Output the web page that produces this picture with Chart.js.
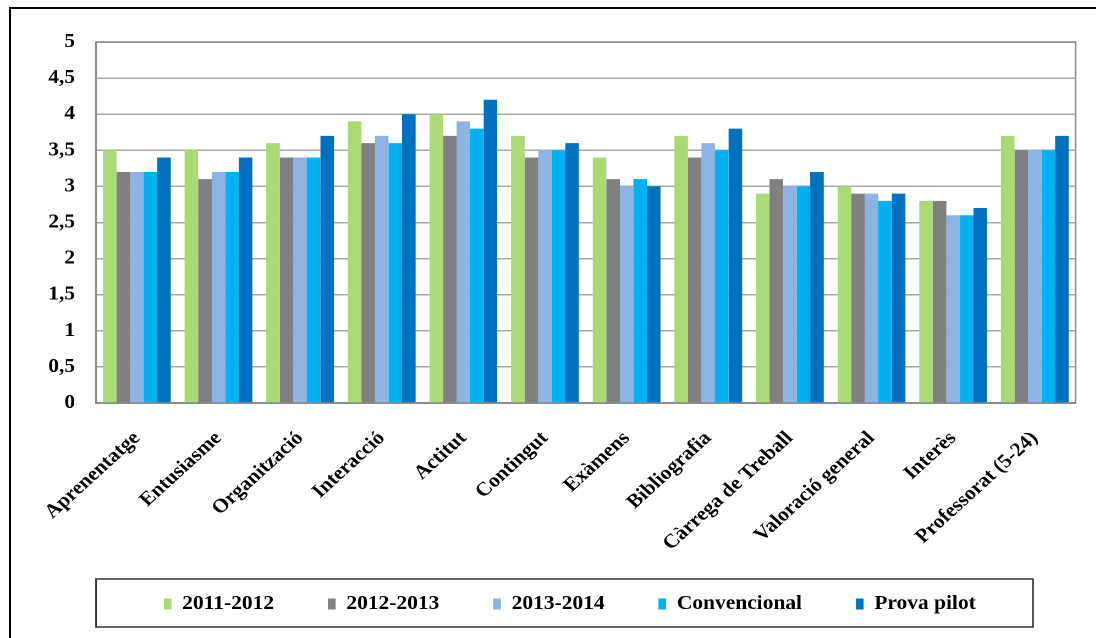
<!DOCTYPE html>
<html>
<head>
<meta charset="utf-8">
<script src="https://cdn.jsdelivr.net/npm/chart.js@4/dist/chart.umd.min.js"></script>
<style>
  html, body { margin: 0; padding: 0; background: #fff; overflow: hidden; }
  #frame { position: absolute; left: 9px; top: 7px; width: 1200px; height: 700px;
           border-left: 2px solid #000; border-top: 2px solid #000; }
  /* the original picture is stretched sideways, so the chart is too */
  #wrap { position: absolute; left: 0; top: 0; width: 996px; height: 638px;
          transform: scaleX(1.1); transform-origin: 0 0; }
</style>
</head>
<body>
<div id="frame"></div>
<div id="wrap"><canvas id="chart" width="996" height="638"></canvas></div>
<script>
// categories (x axis)
const categories = ['Aprenentatge', 'Entusiasme', 'Organització', 'Interacció', 'Actitut', 'Contingut',
  'Exàmens', 'Bibliografia', 'Càrrega de Treball', 'Valoració general', 'Interès', 'Professorat (5-24)'];

// series
const seriesNames = ['2011-2012', '2012-2013', '2013-2014', 'Convencional', 'Prova pilot'];
const vals2011  = [3.5, 3.5, 3.6, 3.9, 4.0, 3.7, 3.4, 3.7, 2.9, 3.0, 2.8, 3.7];
const vals2012  = [3.2, 3.1, 3.4, 3.6, 3.7, 3.4, 3.1, 3.4, 3.1, 2.9, 2.8, 3.5];
const vals2013  = [3.2, 3.2, 3.4, 3.7, 3.9, 3.5, 3.0, 3.6, 3.0, 2.9, 2.6, 3.5];
const valsConv  = [3.2, 3.2, 3.4, 3.6, 3.8, 3.5, 3.1, 3.5, 3.0, 2.8, 2.6, 3.5];
const valsPilot = [3.4, 3.4, 3.7, 4.0, 4.2, 3.6, 3.0, 3.8, 3.2, 2.9, 2.7, 3.7];

// y axis
const yMin = 0, yMax = 5, yStep = 0.5;

const colors = ['#AADA75', '#808080', '#8DB3E2', '#00B0F0', '#0070C0'];
const allVals = [vals2011, vals2012, vals2013, valsConv, valsPilot];

const font = { family: '"Liberation Serif", "Times New Roman", serif', weight: 'bold', size: 19.5 };

// frame round the plot + box round the legend
const framePlugin = {
  id: 'frames',
  afterLayout(chart) {
    // centre the legend items where the original has them, and let the
    // wide item padding hang below the reserved legend strip
    const lg = chart.legend;
    lg.left = 80;
    lg.right = 956;
    lg.bottom = 638;
    lg.height = lg.bottom - lg.top;
    // long rotated labels reach into the legend strip; don't clip them
    const x = chart.scales.x;
    x.bottom = 578;
    x.height = x.bottom - x.top;
  },
  afterDraw(chart) {
    const { ctx, chartArea: a } = chart;
    ctx.save();
    ctx.strokeStyle = '#8c8c8c';
    ctx.lineWidth = 1.5;
    ctx.beginPath();
    ctx.moveTo(a.left, a.top);
    ctx.lineTo(a.right, a.top);
    ctx.lineTo(a.right, a.bottom);
    ctx.stroke();
    ctx.strokeStyle = '#333';
    ctx.lineWidth = 1.5;
    ctx.strokeRect(87.3, 579, 851.8, 48);
    ctx.restore();
  }
};

new Chart(document.getElementById('chart'), {
  type: 'bar',
  data: {
    labels: categories,
    datasets: seriesNames.map((name, i) => ({
      label: name,
      data: allVals[i],
      backgroundColor: colors[i],
      borderWidth: 0,
      barPercentage: 1,
      categoryPercentage: 0.83,
    }))
  },
  options: {
    responsive: false,
    animation: false,
    devicePixelRatio: 2,
    layout: { padding: { top: 42, right: 18.2, bottom: 45.75, left: 0 } },
    scales: {
      x: {
        grid: { display: false, drawTicks: false },
        border: { display: true, color: '#8c8c8c', width: 2 },
        ticks: { color: '#000', font, autoSkip: false, minRotation: 45, maxRotation: 45, padding: 24 },
        afterFit(scale) { scale.height = 142.25; }
      },
      y: {
        min: yMin,
        max: yMax,
        grid: { color: '#A6A6A6', lineWidth: 1.5, drawTicks: false },
        border: { display: true, color: '#8c8c8c', width: 1.5 },
        ticks: {
          stepSize: yStep,
          color: '#000',
          font,
          padding: 19,
          callback: v => String(v).replace('.', ',')
        },
        afterFit(scale) { scale.width = 87.3; }
      }
    },
    plugins: {
      legend: {
        position: 'bottom',
        maxHeight: 47,
        labels: { color: '#000', font, boxWidth: 7, boxHeight: 11, padding: 49 }
      },
      tooltip: { enabled: false }
    }
  },
  plugins: [framePlugin]
});
</script>
</body>
</html>
